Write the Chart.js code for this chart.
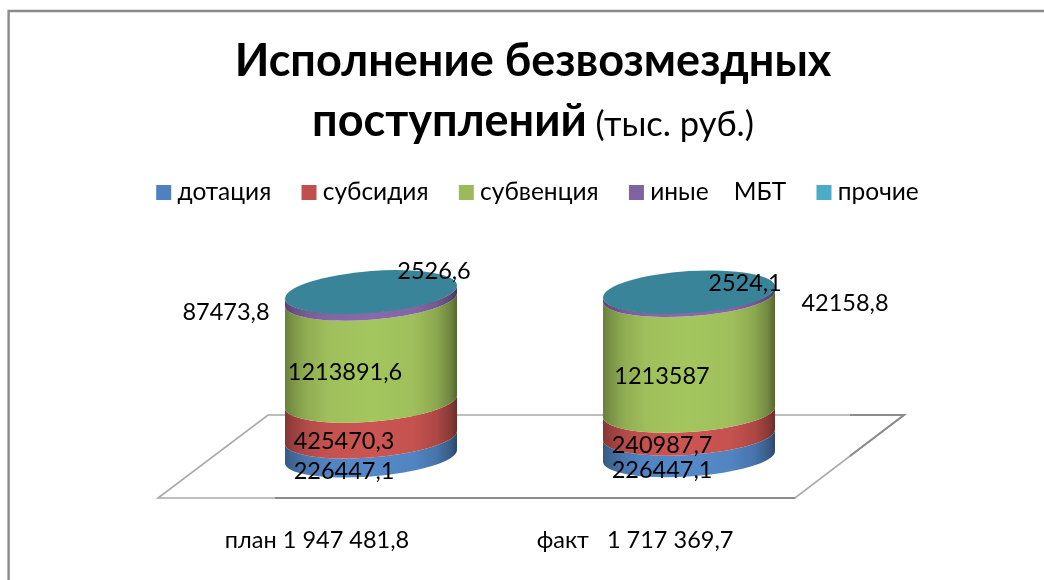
<!DOCTYPE html>
<html><head><meta charset="utf-8">
<style>html,body{margin:0;padding:0;background:#fff}canvas{display:block;filter:blur(0.4px)}</style>
<script src="https://cdn.jsdelivr.net/npm/chart.js@4/dist/chart.umd.js"></script>
</head><body><div style="width:1044px;height:580px"><canvas id="c" width="1044" height="580"></canvas></div>
<script>
const categories = ['план 1 947 481,8', 'факт   1 717 369,7'];
const seriesNames = ['дотация', 'субсидия', 'субвенция', 'иные    МБТ', 'прочие'];
const dotacia   = [226447.1, 226447.1];
const subsidia  = [425470.3, 240987.7];
const subvencia = [1213891.6, 1213587];
const inyeMBT   = [87473.8, 42158.8];
const prochie   = [2526.6, 2524.1];
const seriesValues = [dotacia, subsidia, subvencia, inyeMBT, prochie];

const colors = ['#4F81BD', '#C0504D', '#9BBB59', '#8064A2', '#4BACC6'];
const FONT = 'Lato, "Open Sans", sans-serif';
const fmt = v => String(v).replace('.', ',');

const totals = categories.map((_, i) => seriesValues.reduce((s, a) => s + a[i], 0));

// label placement: centre of each text, hand-placed in the reference
const labelPos = [
  [[344, 471], [662, 470]],
  [[344, 441], [662, 445]],
  [[345, 372], [662, 376]],
  [[226, 312], [845, 303]],
  [[434, 271], [745, 283]]
];
const shear = [-0.0756, -0.062];
const RY = 20;

function shade(hex, f) {
  const n = parseInt(hex.slice(1), 16);
  const c = [n >> 16, (n >> 8) & 255, n & 255].map(v => Math.min(255, Math.round(v * f)));
  return `rgb(${c[0]},${c[1]},${c[2]})`;
}
function sideGradient(ctx, rx, col) {
  const g = ctx.createLinearGradient(-rx, 0, rx, 0);
  [[0, .68], [.04, .78], [.12, .92], [.25, 1.02], [.5, 1.06], [.75, 1.02], [.88, .9], [.96, .72], [1, .55]]
    .forEach(([p, f]) => g.addColorStop(p, shade(col, f)));
  return g;
}

const cylinders = {
  id: 'cylinders',
  beforeDatasetsDraw(chart) {
    const ctx = chart.ctx;
    ctx.save();
    ctx.strokeStyle = '#a9a9a9';
    ctx.lineWidth = 1.6;
    ctx.beginPath();
    ctx.moveTo(268, 415); ctx.lineTo(904, 415); ctx.lineTo(795, 498); ctx.lineTo(158, 498); ctx.closePath();
    ctx.stroke();
    ctx.strokeStyle = '#8c8c8c';
    ctx.lineWidth = 2;
    ctx.beginPath();
    ctx.moveTo(850, 415); ctx.lineTo(904, 415); ctx.lineTo(850, 456);
    ctx.moveTo(275, 498); ctx.lineTo(795, 498);
    ctx.stroke();
    ctx.restore();
  },
  beforeDatasetDraw() { return false; },
  afterDatasetsDraw(chart) {
    const ctx = chart.ctx;
    categories.forEach((_, j) => {
      const s = shear[j];
      seriesValues.forEach((_, i) => {
        const el = chart.getDatasetMeta(i).data[j];
        const rx = el.width / 2;
        ctx.save();
        ctx.transform(1, s, 0, 1, el.x, 0);
        ctx.beginPath();
        ctx.ellipse(0, el.base, rx, RY, 0, Math.PI, 0, true);
        ctx.ellipse(0, el.y, rx, RY, 0, 0, Math.PI, false);
        ctx.closePath();
        ctx.fillStyle = sideGradient(ctx, rx, colors[i]);
        ctx.fill();
        ctx.restore();
      });
      const last = chart.getDatasetMeta(seriesValues.length - 1).data[j];
      const rx = last.width / 2;
      ctx.save();
      ctx.transform(1, s, 0, 1, last.x, 0);
      ctx.beginPath();
      ctx.ellipse(0, last.y, rx, RY + 1, 0, 0, Math.PI * 2);
      ctx.fillStyle = '#3A8499';
      ctx.fill();
      ctx.restore();
    });
  },
  afterDraw(chart) {
    const ctx = chart.ctx;
    ctx.save();
    // frame
    ctx.strokeStyle = '#8a8a8a';
    ctx.lineWidth = 2.4;
    ctx.beginPath();
    ctx.moveTo(8.6, 580); ctx.lineTo(8.6, 11); ctx.lineTo(1044, 11);
    ctx.stroke();
    // title
    ctx.fillStyle = '#000';
    ctx.textBaseline = 'alphabetic';
    ctx.textAlign = 'left';
    ctx.font = 'bold 45px ' + FONT;
    const l1 = 'Исполнение безвозмездных';
    ctx.fillText(l1, 533 - ctx.measureText(l1).width / 2, 76);
    const a = 'поступлений', b = ' (тыс. руб.)';
    const wa = ctx.measureText(a).width;
    ctx.font = '34.5px ' + FONT;
    const wb = ctx.measureText(b).width;
    const x0 = 533 - (wa + wb) / 2;
    ctx.font = 'bold 45px ' + FONT;
    ctx.fillText(a, x0, 136);
    ctx.font = '34.5px ' + FONT;
    ctx.fillText(b, x0 + wa, 136);
    // data labels
    ctx.font = '23.5px ' + FONT;
    ctx.textAlign = 'center';
    ctx.textBaseline = 'middle';
    seriesValues.forEach((vals, i) => vals.forEach((v, j) => {
      ctx.fillText(fmt(v), labelPos[i][j][0], labelPos[i][j][1]);
    }));
    ctx.restore();
  }
};

new Chart(document.getElementById('c'), {
  type: 'bar',
  data: {
    labels: categories,
    datasets: seriesNames.map((n, i) => ({
      label: n,
      data: seriesValues[i].map((v, j) => v / totals[j] * 100),
      backgroundColor: colors[i],
      barPercentage: 0.541,
      categoryPercentage: 1
    }))
  },
  plugins: [cylinders],
  options: {
    responsive: false,
    animation: false,
    layout: { padding: { left: 37, right: 0, top: 144, bottom: 0 } },
    plugins: {
      title: { display: false },
      tooltip: { enabled: false },
      legend: {
        display: true,
        position: 'top',
        labels: {
          color: '#000',
          font: { family: FONT, size: 24.5 },
          boxWidth: 3, boxHeight: 3, padding: 36.3,
          generateLabels: () => seriesNames.map((n, i) => ({
            text: n, fillStyle: colors[i], strokeStyle: colors[i],
            lineWidth: 12, lineJoin: 'miter', datasetIndex: i, hidden: false
          }))
        }
      }
    },
    scales: {
      x: {
        stacked: true,
        grid: { display: false },
        border: { display: false },
        ticks: { color: '#000', font: { family: FONT, size: 23.5 }, padding: 61.5, labelOffset: -54, maxRotation: 0 },
        afterFit(a) { a.height = 123.5; }
      },
      y: {
        stacked: true, min: 0, max: 147,
        grid: { display: false }, border: { display: false }, ticks: { display: false },
        afterFit(a) { a.width = 175; }
      },
      yRight: {
        position: 'right', axis: 'y', min: 0, max: 147,
        grid: { display: false }, border: { display: false }, ticks: { display: false },
        afterFit(a) { a.width = 196; }
      }
    }
  }
});
</script></body></html>
